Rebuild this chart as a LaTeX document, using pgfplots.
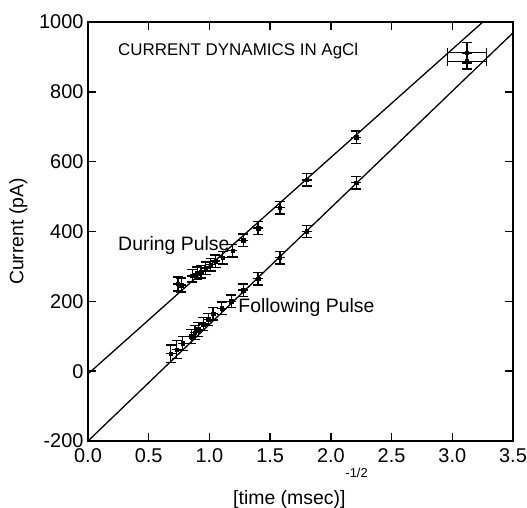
\documentclass[border=0pt]{standalone}
\usepackage{fontspec}
\setmainfont{Liberation Sans}
\usepackage{pgfplots}
\pgfplotsset{compat=1.18}

\begin{document}
\begin{tikzpicture}
\begin{axis}[
    scale only axis,
    width=425bp, height=419bp,
    xmin=0, xmax=3.5, ymin=-200, ymax=1000,
    xtick={0,0.5,1,1.5,2,2.5,3,3.5}, ytick={-200,0,200,400,600,800,1000},
    xticklabels={0.0,0.5,1.0,1.5,2.0,2.5,3.0,3.5},
    yticklabels={-200,0,200,400,600,800,1000},
    xticklabel style={font=\fontsize{20}{22}\selectfont, yshift=-4bp},
    yticklabel style={font=\fontsize{20}{22}\selectfont, xshift=-1bp},
    label style={font=\fontsize{19.5}{22}\selectfont},
    tick align=inside, major tick length=8bp,
    axis line style={line width=1.8bp},
    every tick/.style={line width=1.4bp, black},
    ylabel={Current (pA)},
    xlabel={[time (msec)]\raisebox{1.35em}{\fontsize{13}{13}\selectfont -1/2}},
    xlabel style={yshift=1bp},
    ylabel style={yshift=5bp},
    clip=true,
]
%% fitted lines
\addplot[black, line width=1.3bp] coordinates {(0,-8)(3.5,1077)};
\addplot[black, line width=1.3bp] coordinates {(0,-200)(3.5,969)};

%% During Pulse
\addplot[black, only marks, mark=square*, mark size=1.8bp,
    error bars/.cd, y dir=both, y explicit, x dir=both, x explicit,
    error bar style={line width=1.4bp},
    error mark options={line width=1.4bp, mark size=5bp, rotate=90}]
coordinates {
  (0.74,250) +- (0,20)
  (0.77,247) +- (0,20)
  (0.86,273) +- (0,18)
  (0.90,280) +- (0,18)
  (0.93,285) +- (0,18)
  (0.97,295) +- (0,18)
  (1.01,305) +- (0,18)
  (1.05,315) +- (0,18)
  (1.11,325) +- (0,18)
  (1.19,345) +- (0,18)
  (1.28,375) +- (0,18)
  (1.40,410) +- (0,18)
  (1.58,468) +- (0,18)
  (1.80,548) +- (0,18)
  (2.21,670) +- (0,18)
  (3.12,912) +- (0.16,30)
};

%% Following Pulse
\addplot[black, only marks, mark=square*, mark size=1.8bp,
    error bars/.cd, y dir=both, y explicit, x dir=both, x explicit,
    error bar style={line width=1.4bp},
    error mark options={line width=1.4bp, mark size=5bp, rotate=90}]
coordinates {
  (0.68,50) +- (0,25)
  (0.73,62) +- (0,25)
  (0.78,80) +- (0,20)
  (0.85,100) +- (0,20)
  (0.88,110) +- (0,20)
  (0.91,120) +- (0,20)
  (0.95,135) +- (0,18)
  (0.99,148) +- (0,18)
  (1.03,165) +- (0,18)
  (1.10,180) +- (0,18)
  (1.18,200) +- (0,18)
  (1.28,232) +- (0,18)
  (1.40,265) +- (0,18)
  (1.58,325) +- (0,18)
  (1.80,400) +- (0,18)
  (2.21,540) +- (0,18)
  (3.12,887) +- (0.16,22)
};

\node[anchor=west, font=\fontsize{17}{20}\selectfont] at (axis cs:0.22,918) {CURRENT DYNAMICS IN AgCl};
\node[anchor=west, font=\fontsize{19.5}{22}\selectfont] at (axis cs:0.22,360) {During Pulse};
\node[anchor=west, font=\fontsize{19.5}{22}\selectfont] at (axis cs:1.21,183) {Following Pulse};
\end{axis}
%% page margins as in the reference
\pgfresetboundingbox
\path ([xshift=-88bp,yshift=-67bp]current axis.south west)
  rectangle ([xshift=14bp,yshift=22bp]current axis.north east);
\end{tikzpicture}
\end{document}
